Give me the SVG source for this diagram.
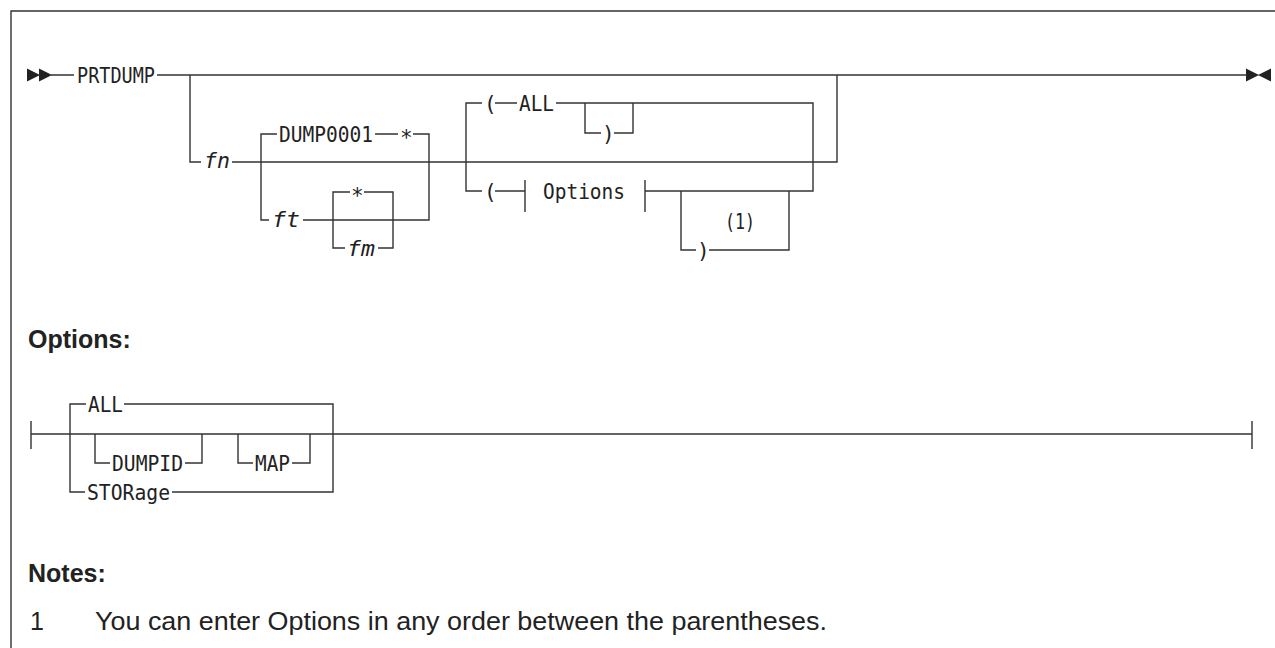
<svg xmlns="http://www.w3.org/2000/svg" width="1275" height="648" viewBox="0 0 1275 648">
<style>
.l{fill:none;stroke:#333;stroke-width:1.4}
.m{font-family:"DejaVu Sans Mono","Liberation Mono",monospace;font-size:21px;fill:#222}
.i{font-style:italic}
.h{font-family:"Liberation Sans",Arial,sans-serif;font-size:25px;font-weight:bold;fill:#222}
.n{font-family:"Liberation Sans",Arial,sans-serif;font-size:25px;fill:#222}
.a{fill:#222}
</style>
<rect width="1275" height="648" fill="#fff"/>
<g id="frame"><path class="l" d="M11,648 V11 H1275"/></g>
<g id="connectors">
<path class="a" d="M27,68.5 L40,75 L27,81.5 Z M39,68.5 L52,75 L39,81.5 Z"/>
<path class="a" d="M1246,68.5 L1259,75 L1246,81.5 Z M1271,68.5 L1258,75 L1271,81.5 Z"/>
<path class="l" d="M51,75 H74 M157,75 H1247"/>
<path class="l" d="M190,75 V162 H201 M232,162 H837 V75"/>
<path class="l" d="M261,162 V134 H277 M375,134 H398 M413,134 H429 V220 H303 M269,220 H261 V162"/>
<path class="l" d="M333,220 V192 H350 M364,192 H393 V248 H378 M345,248 H333 V220"/>
<path class="l" d="M466,162 V103 H482 M495,103 H517 M556,103 H813 V191 H645 M525,191 H495 M482,191 H466 V162"/>
<path class="l" d="M525,180 V212 M645,180 V212"/>
<path class="l" d="M585,103 V133 H601 M614,133 H633 V103"/>
<path class="l" d="M681,191 V250 H696 M709,250 H789 V191"/>
<path class="l" d="M31,421 V449 M1252,421 V449 M31,434 H1252"/>
<path class="l" d="M70,434 V404 H86 M124,404 H333 V492 H172 M85,492 H70 V434"/>
<path class="l" d="M95,434 V463 H110 M185,463 H202 V434"/>
<path class="l" d="M238,434 V463 H253 M292,463 H310 V434"/>
</g>
<g id="prtdump"><text class="m" x="77" y="83" textLength="78" lengthAdjust="spacingAndGlyphs">PRTDUMP</text></g>
<g id="fn"><text class="m i" x="204" y="168" textLength="26" lengthAdjust="spacingAndGlyphs">fn</text></g>
<g id="dump0001"><text class="m" x="279" y="142" textLength="94" lengthAdjust="spacingAndGlyphs">DUMP0001</text></g>
<g id="star1"><text class="m" x="400" y="145">*</text></g>
<g id="ft"><text class="m i" x="272" y="227" textLength="28" lengthAdjust="spacingAndGlyphs">ft</text></g>
<g id="star2"><text class="m" x="351" y="203">*</text></g>
<g id="fm"><text class="m i" x="347" y="256" textLength="28" lengthAdjust="spacingAndGlyphs">fm</text></g>
<g id="lp1"><text class="m" x="484" y="111">(</text></g>
<g id="all1"><text class="m" x="519" y="111" textLength="35" lengthAdjust="spacingAndGlyphs">ALL</text></g>
<g id="rp1"><text class="m" x="602" y="141">)</text></g>
<g id="lp2"><text class="m" x="484" y="199">(</text></g>
<g id="options-ref"><text class="m" x="543" y="199" textLength="82" lengthAdjust="spacingAndGlyphs">Options</text></g>
<g id="rp2"><text class="m" x="697" y="258">)</text></g>
<g id="note-ref"><text class="m" x="725" y="229" font-size="20" textLength="30" lengthAdjust="spacingAndGlyphs">(1)</text></g>
<g id="options-title"><text class="h" x="28" y="348">Options:</text></g>
<g id="all2"><text class="m" x="88" y="412" textLength="35" lengthAdjust="spacingAndGlyphs">ALL</text></g>
<g id="dumpid"><text class="m" x="112" y="471" textLength="71" lengthAdjust="spacingAndGlyphs">DUMPID</text></g>
<g id="map"><text class="m" x="255" y="471" textLength="35" lengthAdjust="spacingAndGlyphs">MAP</text></g>
<g id="storage"><text class="m" x="87" y="500" textLength="83" lengthAdjust="spacingAndGlyphs">STORage</text></g>
<g id="notes-title"><text class="h" x="28" y="582">Notes:</text></g>
<g id="note1"><text class="n" x="30" y="630">1</text><text class="n" x="95" y="630" textLength="732" lengthAdjust="spacingAndGlyphs">You can enter Options in any order between the parentheses.</text></g>
</svg>
